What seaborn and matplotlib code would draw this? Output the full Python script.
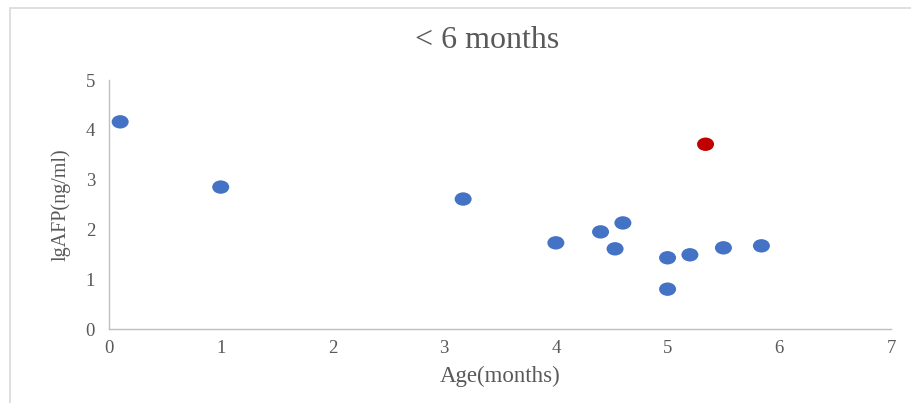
import pandas as pd
import matplotlib.pyplot as plt
import seaborn as sns
from matplotlib.patches import Rectangle
from matplotlib.path import Path
from matplotlib.transforms import Affine2D

# ---------------------------------------------------------
# DATA
# ---------------------------------------------------------
AGE_MONTHS = [0.1, 1.0, 3.17, 4.0, 4.4, 4.53, 4.6, 5.0, 5.0, 5.2, 5.5, 5.84, 5.34]
LG_AFP = [4.16, 2.85, 2.61, 1.73, 1.95, 1.61, 2.13, 1.43, 0.80, 1.49, 1.63, 1.67, 3.71]
GROUP = ["normal"] * 12 + ["outlier"]

X_TICKS = [0, 1, 2, 3, 4, 5, 6, 7]
Y_TICKS = [0, 1, 2, 3, 4, 5]

PALETTE = {"normal": "#4472C4", "outlier": "#C00000"}
AXIS_GRAY = "#BFBFBF"
TEXT_GRAY = "#595959"

sns.set_theme(style="white")
plt.rcParams["font.family"] = ["Liberation Serif", "DejaVu Serif"]

df = pd.DataFrame({"age": AGE_MONTHS, "lgafp": LG_AFP, "group": GROUP})

# the source image is slightly stretched sideways, so the dots are ellipses
ellipse = Path.unit_circle().transformed(Affine2D().scale(1.27, 1.0))

fig = plt.figure(figsize=(9.12, 4.03), dpi=100)
ax = fig.add_axes([109 / 912, 1 - 329 / 403, 782 / 912, 249 / 403])

sns.scatterplot(data=df, x="age", y="lgafp", hue="group", palette=PALETTE,
                marker=ellipse, s=150, linewidth=0, legend=False, ax=ax)

ax.set_xlim(0, 7)
ax.set_ylim(0, 5)
ax.set_xticks(X_TICKS)
ax.set_yticks(Y_TICKS)

for side in ["top", "right"]:
    ax.spines[side].set_visible(False)
for side in ["left", "bottom"]:
    ax.spines[side].set_color(AXIS_GRAY)
    ax.spines[side].set_linewidth(1.0)

ax.tick_params(axis="both", direction="out", length=4, width=1.0,
               color=AXIS_GRAY, labelcolor=TEXT_GRAY, labelsize=13.5)
ax.tick_params(axis="x", pad=4)
ax.tick_params(axis="y", pad=6)

ax.set_xlabel("Age(months)", fontsize=16.5, color=TEXT_GRAY, labelpad=6)
ax.set_ylabel("lgAFP(ng/ml)", fontsize=14.5, color=TEXT_GRAY, labelpad=11)

fig.text(487 / 912, 1 - 40 / 403, "< 6 months", fontsize=23, color=TEXT_GRAY,
         ha="center", va="center")

# light frame around the chart area
fig.patches.append(Rectangle((10 / 912, -0.05), 1.0, 1.05 - 8 / 403,
                             transform=fig.transFigure, fill=False,
                             edgecolor="#D9D9D9", linewidth=1.2))

fig.savefig("out.png", dpi=100)
plt.close(fig)
